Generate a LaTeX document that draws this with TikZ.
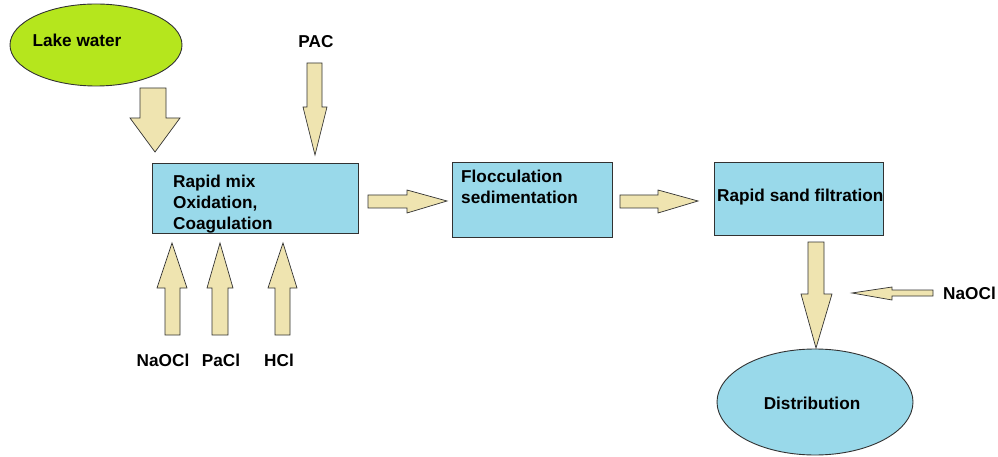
\documentclass[tikz,border=0pt]{standalone}
\usepackage{fontspec}
\setmainfont{Liberation Sans}
\usetikzlibrary{shapes.geometric}
\definecolor{boxblue}{RGB}{153,217,234}
\definecolor{lakegreen}{RGB}{181,230,29}
\definecolor{arrowfill}{RGB}{239,228,176}
\definecolor{edge}{RGB}{50,50,50}
\tikzset{
  box/.style={draw=edge, line width=0.9pt, fill=boxblue, anchor=north west, inner sep=0pt},
  oval/.style={ellipse, draw=edge, line width=0.9pt, inner sep=0pt},
  lbl/.style={font=\fontsize{17.2}{20}\selectfont\bfseries, inner sep=0pt},
  blockarrow/.style={draw=edge, line width=0.7pt, fill=arrowfill, line join=miter},
}
\begin{document}
\begin{tikzpicture}[x=1pt,y=-1pt]
\useasboundingbox[fill=white] (0,0) rectangle (998,457);

% nodes
\node[oval, fill=lakegreen, minimum width=172pt, minimum height=82pt] (lake) at (96,45) {};
\node[lbl] (lakelbl) at (77,40) {Lake water};
\node[lbl] (pac) at (316,42) {PAC};

\node[box, minimum width=206pt, minimum height=70pt] (mix) at (152,163) {};
\node[lbl, anchor=west] (mix1) at (173,183) {Rapid mix};
\node[lbl, anchor=west] (mix2) at (173,204) {Oxidation,};
\node[lbl, anchor=west] (mix3) at (173,225) {Coagulation};

\node[box, minimum width=160pt, minimum height=75pt] (floc) at (452,162) {};
\node[lbl, anchor=west] (floc1) at (461,176) {Flocculation};
\node[lbl, anchor=west] (floc2) at (461,197) {sedimentation};

\node[box, minimum width=169pt, minimum height=73pt] (filt) at (714,162) {};
\node[lbl, anchor=west] (filt1) at (717,197) {Rapid sand filtration};

\node[oval, fill=boxblue, minimum width=196pt, minimum height=106pt] (dist) at (815,402) {};
\node[lbl] (distlbl) at (812,403) {Distribution};

\node[lbl] (naocl1) at (163,360) {NaOCl};
\node[lbl] (pacl) at (221,360) {PaCl};
\node[lbl] (hcl) at (279,360) {HCl};
\node[lbl, anchor=east] (naocl2) at (996,293) {NaOCl};

% block arrows
% lake water -> rapid mix
\draw[blockarrow] (140,88) -- (166,88) -- (166,118) -- (180,118) -- (155,152) -- (130,118) -- (140,118) -- cycle;
% PAC -> rapid mix
\draw[blockarrow] (307,63) -- (322,63) -- (322,107) -- (327,107) -- (315,155) -- (303,107) -- (307,107) -- cycle;
% bottom chemicals up
\draw[blockarrow] (165,335) -- (180,335) -- (180,288) -- (187,288) -- (172,243) -- (157,288) -- (165,288) -- cycle;
\draw[blockarrow] (212,335) -- (228,335) -- (228,288) -- (233,288) -- (220,243) -- (207,288) -- (212,288) -- cycle;
\draw[blockarrow] (275,335) -- (290,335) -- (290,288) -- (297,288) -- (283,243) -- (268,288) -- (275,288) -- cycle;
% mix -> floc
\draw[blockarrow] (368,195) -- (407,195) -- (407,190) -- (447,201) -- (407,213) -- (407,208) -- (368,208) -- cycle;
% floc -> filt
\draw[blockarrow] (620,195) -- (658,195) -- (658,190) -- (698,201) -- (658,213) -- (658,208) -- (620,208) -- cycle;
% filt -> distribution
\draw[blockarrow] (808,242) -- (824,242) -- (824,294) -- (832,294) -- (816,348) -- (801,294) -- (808,294) -- cycle;
% NaOCl -> line
\draw[blockarrow] (933,290) -- (892,290) -- (892,287) -- (852,293) -- (892,300) -- (892,296) -- (933,296) -- cycle;
\end{tikzpicture}
\end{document}
